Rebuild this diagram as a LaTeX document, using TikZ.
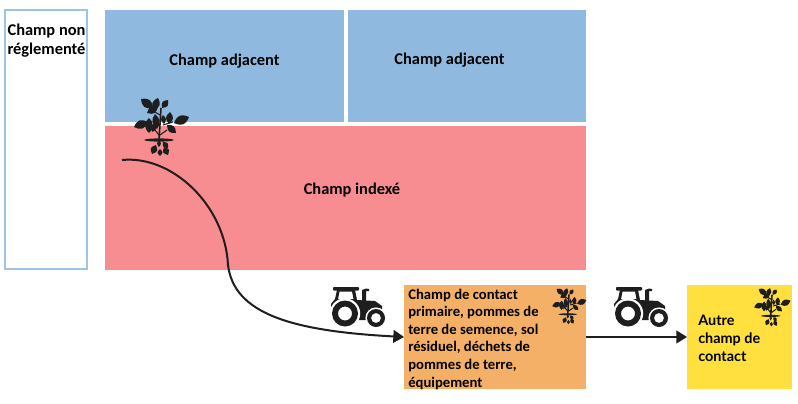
\documentclass[tikz,border=0pt]{standalone}
\usepackage{fontspec}
\setmainfont{Carlito}
\newfontfamily\autrefont{Lato}
\usetikzlibrary{arrows.meta,calc}
\definecolor{bluef}{HTML}{8FB9DF}
\definecolor{bluel}{HTML}{9DC3E6}
\definecolor{redf}{HTML}{F78C91}
\definecolor{orangef}{HTML}{F3B066}
\definecolor{yellowf}{HTML}{FFE03F}
\definecolor{ink}{HTML}{1E1E1E}
\newcommand{\leafshape}[3]{% from, to, fatness
  \fill[ink] #1 .. controls ($#1!#3!45:#2$) and ($#2!#3!-45:#1$) .. #2
   .. controls ($#2!#3!45:#1$) and ($#1!#3!-45:#2$) .. #1 -- cycle;}
\tikzset{
  field/.style={draw=none,inner sep=0pt,outer sep=0pt,anchor=north west},
  lbl/.style={font=\bfseries\fontsize{12.3}{14.3}\selectfont,text=black,inner sep=0pt,align=center},
  lblleft/.style={font=\bfseries\fontsize{11}{13.2}\selectfont,text=black,inner sep=0pt,align=left,anchor=north west},
  link/.style={draw=ink,line width=1.5pt,-{Triangle[length=8pt,width=9.5pt]}},
  pics/plant/.style={code={
    \draw[ink,line width=1.2pt] (0,-17) -- (-2,15);
    \draw[ink,line width=.8pt] (-8,-3) -- (-1,-1) (12,-3) -- (2,0) (-8,-14) -- (-1,-10) (-6,5) -- (-2,10) (6,5) -- (-1,10);
    \leafshape{(-8,-17)}{(-20,-26)}{.55}
    \leafshape{(-7,-15)}{(-3,-27)}{.55}
    \leafshape{(-14,-12)}{(-3,-18)}{.55}
    \leafshape{(1,-17)}{(7,-25)}{.6}
    \leafshape{(-13,-3)}{(-27,2)}{.55}
    \leafshape{(-12,-7)}{(-12,8)}{.5}
    \leafshape{(-6,-11)}{(-4,4)}{.45}
    \leafshape{(-5,-2)}{(-9,7)}{.5}
    \leafshape{(13,-2)}{(28,-8)}{.55}
    \leafshape{(8,-1)}{(9,-13)}{.55}
    \leafshape{(3,-1)}{(2,-10)}{.5}
    \leafshape{(15,8)}{(6,0)}{.55}
    \leafshape{(-17,15)}{(13,15)}{.1}
    \leafshape{(-2,15)}{(-2,22)}{.5}
    \leafshape{(-5,20)}{(-9,29)}{.65}
    \leafshape{(-1,24)}{(-1,31)}{.65}
    \leafshape{(3,22)}{(7,30)}{.65}
    \leafshape{(2,17)}{(7,23)}{.65}
  }},
  pics/tractor/.style={code={
    % cab and body, the window left open
    \fill[ink,even odd rule] (7,3) -- (25,3) -- (27,13) -- (45,14) -- (52,19) -- (52,27) -- (46,24) -- (40,26) -- (37,33) -- (14,33) -- (1,20) -- (1,17) -- (5,12) -- cycle
      (9.5,4.5) -- (22,4.5) -- (23.5,12) -- (8,12) -- cycle;
    % roof and exhaust
    \fill[ink,rounded corners=.6] (3,0) -- (29,0) -- (29,3.5) -- (3,3.5) -- cycle;
    \fill[ink] (32,3) -- (36,1.5) -- (39,2) -- (39,4) -- (36,4) -- (36,15) -- (32,15) -- cycle;
    % wheels with their white gaps
    \fill[white] (15,26.5) circle (15.2);
    \fill[white] (46,31) circle (10.6);
    \fill[ink,even odd rule] (15,26.5) circle (13) (15,26.5) circle (7);
    \fill[ink,even odd rule] (46,31) circle (9) (46,31) circle (5);
  }}
}
\begin{document}
\begin{tikzpicture}[x=0.75pt,y=-0.75pt]
\useasboundingbox (0,0) rectangle (798,403);
\fill[white] (0,0) rectangle (798,403);
% fields
\node[field,draw=bluel,line width=1.5pt,fill=white,minimum width=61.5pt,minimum height=194pt] (free) at (5,10.5) {};
\node[field,fill=bluef,minimum width=179.25pt,minimum height=84pt] (adjA) at (105,10) {};
\node[field,fill=bluef,minimum width=178.5pt,minimum height=84pt] (adjB) at (348,10) {};
\node[field,fill=redf,minimum width=360.75pt,minimum height=108pt] (indexed) at (105,126) {};
\node[field,fill=orangef,minimum width=136.5pt,minimum height=78pt] (primary) at (404,285) {};
\node[field,fill=yellowf,minimum width=78.75pt,minimum height=78pt] (other) at (687,285) {};
% labels
\node[lbl] (tfree) at (46.5,41) {Champ non\\réglementé};
\node[lbl] (tadjA) at (224.5,61) {Champ adjacent};
\node[lbl] (tadjB) at (449.5,60) {Champ adjacent};
\node[lbl] (tindexed) at (352,190) {Champ indexé};
\node[lblleft] (tprimary) at (408,288.5) {Champ de contact\\primaire, pommes de\\terre de semence, sol\\résiduel, déchets de\\pommes de terre,\\équipement};
\node[font=\autrefont\bfseries\fontsize{10.8}{13.75}\selectfont,text=black,inner sep=0pt,align=left,anchor=north west] (tother) at (698,314.5) {Autre\\champ de\\contact};
% icons
\pic at (161,125) {plant};
\pic[scale=.62] at (569,305) {plant};
\pic[scale=.66] at (772,306) {plant};
\pic at (330,287) {tractor};
\pic at (613,287) {tractor};
% connectors
\coordinate (start) at (122,160);
\draw[link] (start) .. controls (172,155) and (225,205) .. (228,265) .. controls (234,314) and (292,331) .. (primary.west);
\draw[link] (primary.east) -- (other.west);
\end{tikzpicture}
\end{document}
